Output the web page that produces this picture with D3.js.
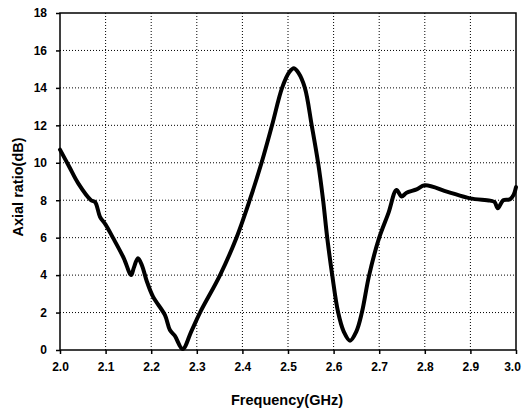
<!DOCTYPE html>
<html>
<head>
<meta charset="utf-8">
<script src="https://cdn.jsdelivr.net/npm/d3@7"></script>
<style>
  body { margin: 0; background: #fff; }
  svg text { font-family: "Liberation Sans", Arial, sans-serif; font-weight: bold; fill: #000; }
</style>
</head>
<body>
<svg id="chart" width="523" height="411"></svg>
<script>
// frequency (GHz) and axial ratio (dB)
const freq = [2.0, 2.02, 2.04, 2.068, 2.077, 2.088, 2.1, 2.116, 2.14, 2.156, 2.162, 2.171, 2.18, 2.19,
  2.204, 2.23, 2.241, 2.252, 2.269, 2.288, 2.307, 2.351, 2.387, 2.416, 2.442, 2.465, 2.487,
  2.503, 2.513, 2.523, 2.537, 2.552, 2.566, 2.577, 2.586, 2.597, 2.61, 2.622, 2.636, 2.65, 2.662,
  2.678, 2.70, 2.72, 2.738, 2.749, 2.76, 2.782, 2.8, 2.85, 2.899, 2.943, 2.953, 2.96, 2.972, 2.987,
  2.995, 3.0];
const axialRatio = [10.7, 9.8, 8.9, 8.0, 7.9, 7.1, 6.7, 6.0, 4.9, 4.0, 4.4, 4.9, 4.5, 3.7,
  2.85, 1.87, 1.07, 0.75, 0.05, 1.0, 2.0, 4.0, 6.0, 8.0, 10.0, 12.0, 14.0,
  14.85, 15.05, 14.8, 14.0, 12.0, 10.0, 8.0, 6.0, 4.0, 2.0, 1.0, 0.5, 1.0, 2.0,
  4.0, 6.0, 7.3, 8.55, 8.2, 8.4, 8.58, 8.8, 8.45, 8.1, 7.98, 7.9, 7.57, 8.0, 8.05,
  8.3, 8.7];
const xTicks = [2.0, 2.1, 2.2, 2.3, 2.4, 2.5, 2.6, 2.7, 2.8, 2.9, 3.0];
const yTicks = [0, 2, 4, 6, 8, 10, 12, 14, 16, 18];

const svg = d3.select("#chart");
const plotL = 60, plotR = 516, plotT = 13, plotB = 350;

const x = d3.scaleLinear().domain([2.0, 3.0]).range([plotL, plotR]);
const y = d3.scaleLinear().domain([0, 18]).range([plotB, plotT]);

// dotted grid
svg.append("g").selectAll("line").data(xTicks.slice(1, -1)).join("line")
  .attr("x1", d => x(d)).attr("x2", d => x(d))
  .attr("y1", plotT).attr("y2", plotB)
  .attr("stroke", "#000").attr("stroke-width", 1).attr("stroke-dasharray", "1,2");
svg.append("g").selectAll("line").data(yTicks.slice(1, -1)).join("line")
  .attr("x1", plotL).attr("x2", plotR)
  .attr("y1", d => y(d)).attr("y2", d => y(d))
  .attr("stroke", "#000").attr("stroke-width", 1).attr("stroke-dasharray", "1,2");

// frame
svg.append("rect")
  .attr("x", plotL).attr("y", plotT)
  .attr("width", plotR - plotL).attr("height", plotB - plotT)
  .attr("fill", "none").attr("stroke", "#000").attr("stroke-width", 1.5);

// axes
const xAxis = svg.append("g").attr("transform", `translate(0,${plotB})`)
  .call(d3.axisBottom(x).tickValues(xTicks).tickFormat(d3.format(".1f")).tickSize(4).tickPadding(8));
const yAxis = svg.append("g").attr("transform", `translate(${plotL},0)`)
  .call(d3.axisLeft(y).tickValues(yTicks).tickSize(4).tickPadding(9));
[xAxis, yAxis].forEach(g => {
  g.select(".domain").remove();
  g.selectAll("line").attr("stroke", "#000").attr("stroke-width", 1.5);
  g.selectAll("text").style("font-size", "12px").style("font-family", "Liberation Sans, Arial, sans-serif")
    .style("font-weight", "bold").attr("fill", "#000");
});
// last label sits at the window edge, nudge it inside
xAxis.selectAll(".tick").filter(d => d === 3.0).select("text").attr("dx", -4);

// curve
const line = d3.line().x((d, i) => x(freq[i])).y(d => y(d)).curve(d3.curveCatmullRom.alpha(0.5));
svg.append("path").datum(axialRatio)
  .attr("d", line)
  .attr("fill", "none").attr("stroke", "#000").attr("stroke-width", 4)
  .attr("stroke-linejoin", "round").attr("stroke-linecap", "round");

// titles
svg.append("text").attr("x", 287).attr("y", 405).attr("text-anchor", "middle")
  .style("font-size", "14.5px").text("Frequency(GHz)");
svg.append("text").attr("transform", "translate(23,187) rotate(-90)").attr("text-anchor", "middle")
  .style("font-size", "14.5px").text("Axial ratio(dB)");
</script>
</body>
</html>
